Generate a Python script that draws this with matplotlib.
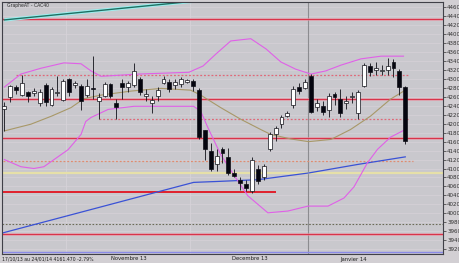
import matplotlib
matplotlib.use("Agg")
import matplotlib.pyplot as plt
from matplotlib import font_manager
import numpy as np

# ---- data ----
opens  = [4232,4259,4283,4264,4271,4268,4246,4286,4241,4268,4253,4300,4286,4285,4264,4280,4250,4262,4289,4247,
          4292,4282,4286,4301,4261,4246,4262,4292,4294,4286,4289,4294,4295,4276,4186,4139,4109,4143,4125,4091,
          4075,4066,4049,4099,4082,4144,4176,4199,4217,4243,4281,4279,4307,4238,4240,4231,4266,4256,4246,4259,
          4225,4285,4330,4321,4318,4321,4337,4318,4283]
highs  = [4248,4287,4286,4309,4273,4279,4277,4290,4281,4306,4299,4302,4295,4289,4300,4352,4268,4294,4292,4256,
          4301,4296,4336,4305,4277,4262,4281,4307,4301,4301,4305,4300,4300,4280,4187,4158,4143,4147,4146,4100,
          4082,4075,4126,4108,4109,4181,4196,4219,4229,4285,4290,4301,4312,4255,4251,4268,4270,4277,4262,4271,
          4276,4335,4335,4339,4331,4348,4345,4322,4285]
lows   = [4184,4248,4266,4261,4249,4261,4240,4240,4240,4262,4251,4262,4280,4231,4260,4255,4210,4260,4258,4210,
          4255,4272,4281,4265,4251,4223,4251,4289,4271,4277,4282,4290,4273,4166,4120,4094,4094,4113,4086,4082,
          4053,4049,4045,4065,4075,4139,4162,4190,4214,4236,4267,4277,4225,4229,4220,4214,4243,4216,4232,4247,
          4210,4281,4307,4309,4310,4309,4305,4265,4154]
closes = [4240,4285,4276,4292,4261,4274,4270,4249,4277,4272,4296,4270,4290,4251,4285,4278,4259,4289,4262,4238,
          4283,4290,4318,4271,4266,4253,4276,4299,4277,4294,4301,4297,4285,4171,4144,4098,4129,4134,4090,4084,
          4068,4056,4120,4071,4105,4176,4191,4214,4225,4277,4273,4294,4226,4247,4226,4261,4259,4223,4250,4262,
          4272,4331,4315,4325,4321,4330,4324,4281,4161.47]

# moving average 20 (olive)
ma20_x = [0, 4.5, 8, 11.3, 13.5, 16.4, 21.5, 26.6, 31.6, 33.3, 36.7, 40.1, 43.5, 45.2, 48.6, 51.6, 55.4, 58.7, 62.1, 65.5, 68]
ma20_v = [4184, 4199, 4217, 4236, 4256, 4264, 4273, 4279, 4275, 4264, 4236, 4210, 4187, 4176, 4166, 4160, 4165, 4187, 4217, 4255, 4275]
# long moving average (blue)
mal_x = [-0.6, 32.1, 36, 43, 51.6, 59.9, 68]
mal_v = [3955, 4069, 4071, 4075, 4090, 4109, 4126]
# bollinger upper
bbu_x = [0, 2.8, 6.2, 10.1, 13, 14.7, 16.4, 22.8, 31.3, 33.7, 35.9, 38.4, 41.8, 44.4, 46.9, 49.4, 52, 54.5, 57.1, 60.5, 63.9, 67.7]
bbu_v = [4282, 4311, 4324, 4336, 4334, 4318, 4306, 4311, 4315, 4329, 4356, 4385, 4390, 4367, 4338, 4322, 4311, 4318, 4331, 4345, 4351, 4351]
# bollinger lower
bbl_x = [0, 2.8, 5, 6.7, 10.8, 13, 13.8, 14.7, 17.6, 22, 32.1, 33.3, 34.5, 36.7, 38.9, 41.3, 44.7, 48.1, 51.5, 54.9, 57.6, 59.3, 61.6, 63.3, 65.5, 67.7]
bbl_v = [4120, 4104, 4100, 4104, 4142, 4176, 4205, 4214, 4232, 4239, 4239, 4228, 4192, 4131, 4086, 4039, 4001, 4005, 4016, 4016, 4034, 4059, 4113, 4143, 4170, 4185]

# horizontal levels
red_levels = [4434, 4256, 4169, 3953]
support_level = 4047
dotted_red_levels = [4309, 4210]
dotted_orange_level = 4116
yellow_level = 4091
dotted_gray_level = 3977
blue_level = 3913
trend_x = [0, 40]
trend_v = [4432, 4484]

yticks = list(range(3920, 4461, 20))
month_starts = [11, 32]
year_start = 51.5

title_text = "GrapheAT - CAC40"
footer = "17/10/13 au 24/01/14 4161.470 -2.79%"
month_labels = ["Novembre 13", "Decembre 13", "Janvier 14"]

names = {f.name for f in font_manager.fontManager.ttflist}
fam = ["Liberation Sans Narrow", "DejaVu Sans"] if "Liberation Sans Narrow" in names else ["DejaVu Sans"]
plt.rcParams["font.family"] = fam

# ---- figure ----
W, H = 460, 263
fig = plt.figure(figsize=(W/100, H/100), dpi=100, facecolor="#d2cfd3")
ax = fig.add_axes([2/W, 1-254/H, (443-2)/W, (254-2)/H])
ax.set_facecolor("#c9c8cd")
ax.set_xlim(-0.4, 74.4)
ax.set_ylim(3909, 4472)

for t in yticks:
    ax.axhline(t, color="#d6d2d8", lw=0.5, zorder=0)
for m in month_starts:
    ax.axvline(m - 0.5, color="#d6d2d8", lw=0.6, zorder=0)
ax.axvline(year_start, color="#8c8c90", lw=0.8, zorder=1)

for lv in red_levels:
    ax.axhline(lv, color="#f0a0b0", lw=2.0, zorder=1, alpha=0.6)
    ax.axhline(lv, color="#d8344a", lw=0.9, zorder=1)
ax.hlines(support_level, -0.3, 46, color="#e0202c", lw=1.4, zorder=1)
for lv in dotted_red_levels:
    x0 = 2 if lv > 4300 else 16
    ax.hlines(lv, x0, 68.5, color="#e06878", lw=0.9, linestyles=(0, (1.5, 1.5)), zorder=1)
ax.hlines(dotted_orange_level, -0.3, 69.3, color="#e08c70", lw=0.9, linestyles=(0, (1.5, 1.5)), zorder=1)
ax.axhline(yellow_level, color="#e6e0a8", lw=1.6, zorder=1)
ax.axhline(dotted_gray_level, color="#6c6c58", lw=0.8, linestyle=(0, (1.5, 1.5)), zorder=1)
ax.axhline(blue_level, color="#8a8ae8", lw=1.0, zorder=1)

ax.plot(trend_x, trend_v, color="#9af0f0", lw=2.4, zorder=2, solid_capstyle="butt")
ax.plot(trend_x, trend_v, color="#1f6f62", lw=1.0, zorder=2)

ax.plot(ma20_x, ma20_v, color="#a89868", lw=0.8, zorder=2)
ax.plot(mal_x, mal_v, color="#3a52d6", lw=0.9, zorder=2)
ax.plot(bbu_x, bbu_v, color="#e060e8", lw=0.8, zorder=2)
ax.plot(bbl_x, bbl_v, color="#e060e8", lw=0.8, zorder=2)

bw = 0.66
for i, (o, h, l, c) in enumerate(zip(opens, highs, lows, closes)):
    ax.vlines(i, l, h, color="#101018", lw=0.6, zorder=3)
    up = c >= o
    bottom = min(o, c)
    height = max(abs(c - o), 1.2)
    ax.bar(i, height, bw, bottom=bottom, color="white" if up else "#05050f",
           edgecolor="#101018", linewidth=0.5, zorder=4)

ax.yaxis.tick_right()
ax.set_yticks(yticks)
ax.set_yticklabels([str(t) for t in yticks], fontsize=4.0, color="#303030")
ax.tick_params(axis="y", length=2, width=0.5, pad=1.0, colors="#303030")
ax.set_xticks([])
for s in ax.spines.values():
    s.set_color("#404048")
    s.set_linewidth(0.8)

fig.text(7/W, 1-5/H, title_text, fontsize=3.3, color="#303030", va="center", ha="left")
fig.text(2/W, 1-259/H, footer, fontsize=3.3, color="#202020", va="center", ha="left")
for lab, px in zip(month_labels, [111, 232, 340]):
    fig.text(px/W, 1-259/H, lab, fontsize=3.8, color="#202020", va="center", ha="left")

fig.savefig("out.png", dpi=100, facecolor=fig.get_facecolor())
